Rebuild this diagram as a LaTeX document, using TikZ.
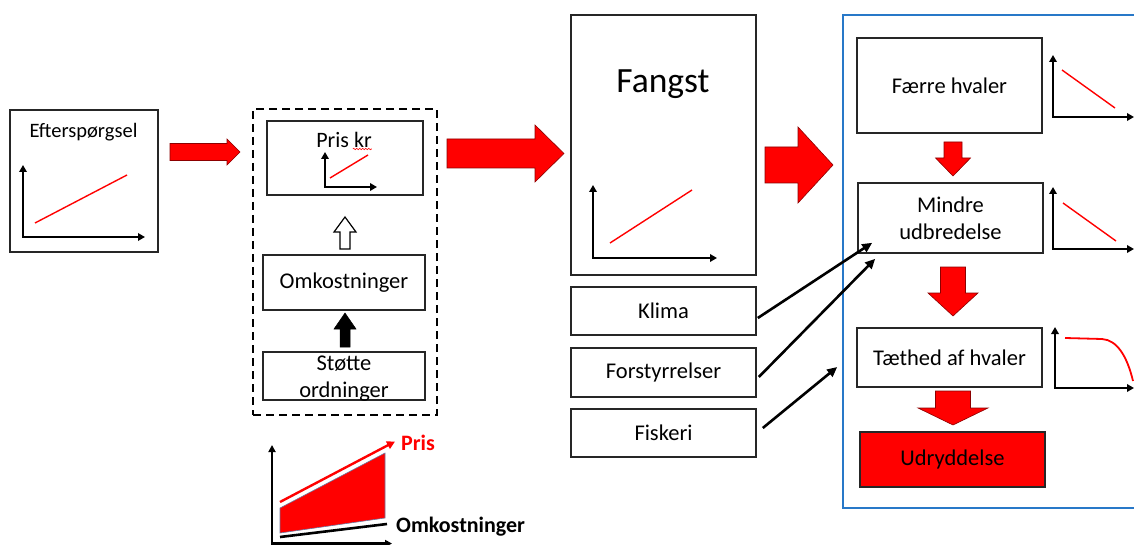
\documentclass[tikz,border=0pt]{standalone}
\usepackage{fontspec}
\setmainfont{Carlito}
\usetikzlibrary{arrows.meta,decorations.pathmorphing}
\definecolor{myblue}{RGB}{40,120,200}
\definecolor{edgegray}{RGB}{110,120,160}
\newcommand\myRArr[6]{% x1, tip, yc, body half, head half, head start
  \filldraw[blockarrow] ({#1},{#3-#4}) -- ({#6},{#3-#4}) -- ({#6},{#3-#5}) -- ({#2},{#3}) -- ({#6},{#3+#5}) -- ({#6},{#3+#4}) -- ({#1},{#3+#4}) -- cycle;}
\newcommand\myVArr[7]{% style, xc, y1 (tail), y2 (tip), body half, head half, head start
  \filldraw[#1] ({#2-#5},{#3}) -- ({#2+#5},{#3}) -- ({#2+#5},{#7}) -- ({#2+#6},{#7}) -- ({#2},{#4}) -- ({#2-#6},{#7}) -- ({#2-#5},{#7}) -- cycle;}
\begin{document}
\begin{tikzpicture}[x=1pt,y=-1pt,
  box/.style={draw=black!85, line width=1.6pt, inner sep=0pt, align=center,
              font=\fontsize{22.5}{27}\selectfont},
  txt/.style={inner sep=0pt, align=center, font=\fontsize{22.5}{27}\selectfont},
  axis/.style={line width=2.4pt, {Triangle[length=7pt,width=7.5pt]}-{Triangle[length=7pt,width=7.5pt]}},
  curve/.style={red, line width=1.4pt},
  blockarrow/.style={fill=red, draw=red!55!black, line width=0.6pt},
  thinarrow/.style={line width=2.6pt, -{Triangle[length=10pt,width=9pt]}}]
\useasboundingbox (0,0) rectangle (1134,545);

% ---------- Efterspørgsel ----------
\node[box, minimum width=148pt, minimum height=142pt] (eft) at (84,181) {};
\node[txt, font=\fontsize{20.5}{24}\selectfont] (eftt) at (83.5,132) {Efterspørgsel};
\draw[axis] (23,165) -- (23,237) -- (145,237);
\draw[curve] (35,223) -- (127,175);

\myRArr{170}{240}{152}{8.5}{13}{227}

% ---------- dashed group ----------
\node[draw, line width=2.2pt, dash pattern=on 8pt off 5pt, minimum width=184pt, minimum height=306pt, inner sep=0pt] (grp) at (345,262) {};
\node[box, minimum width=156pt, minimum height=74pt] (pris) at (345,158) {};
\node[txt, font=\fontsize{22}{27}\selectfont] (prist) at (344,140) {Pris kr};
\draw[red, line width=0.6pt, decorate, decoration={snake, amplitude=0.7pt, segment length=3pt}]
  ([xshift=-19pt,yshift=-9pt]prist.east) -- ([xshift=0pt,yshift=-9pt]prist.east);
\draw[axis] (325,152) -- (325,187) -- (377,187);
\draw[curve] (330,178) -- (368,155);

\node[box, minimum width=162pt, minimum height=55pt] (omk) at (344,282.5) {Omkostninger};
\node[box, minimum width=162pt, minimum height=48pt] (stotte) at (344,376) {};
\node[txt] (stottet) at (344,379) {Støtte\\ordninger};

\myVArr{draw=black, fill=white, line width=1.2pt}{345}{249}{217}{5}{11}{232}
\myVArr{draw=black, fill=black, line width=0.5pt}{345}{347}{313}{5}{11}{329}

% ---------- bottom price/cost graph ----------
\draw[line width=2.2pt, {Triangle[length=7pt,width=7pt]}-{Triangle[length=7pt,width=7pt]}] (272,445) -- (272,543.5) -- (392,543.5);
\filldraw[fill=red, draw=edgegray, line width=0.6pt] (280,508) -- (385,453) -- (385,518) -- (280,533) -- cycle;
\draw[red, line width=2.4pt, -{Triangle[length=8pt,width=8pt]}] (280,502) -- (395,441.5);
\draw[black, line width=2.6pt] (280,537) -- (387,524);
\node[txt, anchor=west, text=red, font=\fontsize{22}{24}\selectfont\bfseries] (prisl) at (401,443) {Pris};
\node[txt, anchor=west, font=\fontsize{22}{24}\selectfont\bfseries] (omkl) at (396,527) {Omkostninger};

\myRArr{447}{564}{153.5}{14.5}{28.5}{535}

% ---------- Fangst column ----------
\node[box, minimum width=185pt, minimum height=260pt] (fangst) at (663.5,145) {};
\node[txt, font=\fontsize{35.5}{40}\selectfont] (fangstt) at (663,84) {Fangst};
\draw[axis] (593,185) -- (593,258) -- (717,258);
\draw[curve] (610,243) -- (692,190);

\node[box, minimum width=185pt, minimum height=48pt] (klima) at (663.5,311) {Klima};
\node[box, minimum width=185pt, minimum height=49pt] (forst) at (663.5,372.5) {Forstyrrelser};
\node[box, minimum width=185pt, minimum height=48pt] (fisk) at (663.5,433) {Fiskeri};

\myRArr{765}{833}{165}{18}{38}{798}

% ---------- blue panel ----------
\draw[myblue, line width=2.2pt] (1140,15) -- (843,15) -- (843,508) -- (1140,508);

\node[box, minimum width=185pt, minimum height=95pt] (faerre) at (949.5,85.5) {Færre hvaler};
\node[box, minimum width=185pt, minimum height=70pt] (mindre) at (950.5,218) {Mindre\\udbredelse};
\node[box, minimum width=185pt, minimum height=59pt] (taethed) at (949.5,357.5) {Tæthed af hvaler};
\node[box, fill=red, minimum width=185pt, minimum height=55pt] (udr) at (952.5,459.5) {Udryddelse};

\myVArr{blockarrow}{953}{142}{176}{9}{17.5}{158}
\myVArr{blockarrow}{953}{267}{316}{12.5}{25}{293}
\myVArr{blockarrow}{953}{391}{425}{17.5}{35}{408}

\draw[axis] (1053,55) -- (1053,117) -- (1134,117);
\draw[curve] (1062,70) -- (1115,108);
\draw[axis] (1053,187) -- (1053,249) -- (1134,249);
\draw[curve] (1063,203) -- (1116,241);
\draw[axis] (1055,327) -- (1055,388) -- (1134,388);
\draw[curve, line width=1.8pt] (1065,338) -- (1102,339) .. controls (1117,340) and (1127,356) .. (1133,381);

% ---------- influence arrows ----------
\coordinate (kt) at ([xshift=15pt,yshift=11pt]mindre.south west);
\coordinate (ft) at ([xshift=18pt,yshift=-5pt]mindre.south west);
\coordinate (fit) at ([xshift=-19pt,yshift=-9.5pt]taethed.west);
\draw[thinarrow] ([xshift=1pt,yshift=-7pt]klima.east) -- (kt);
\draw[thinarrow] ([xshift=2pt,yshift=-4.5pt]forst.east) -- (ft);
\draw[thinarrow] ([xshift=6pt,yshift=5pt]fisk.east) -- (fit);
\end{tikzpicture}
\end{document}
